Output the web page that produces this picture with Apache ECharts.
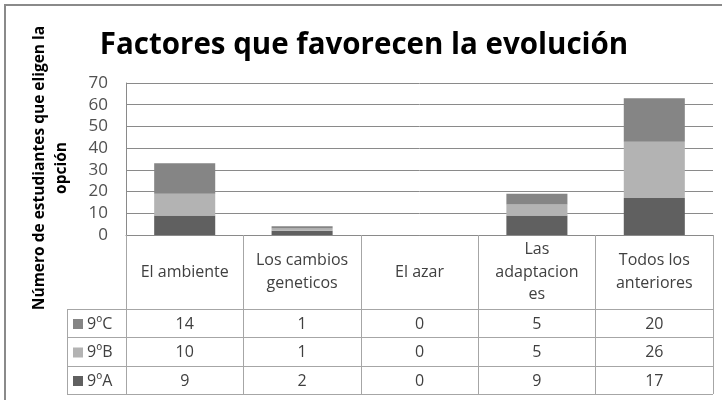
<!DOCTYPE html>
<html><head><meta charset="utf-8">
<script src="https://cdn.jsdelivr.net/npm/echarts@6/dist/echarts.min.js"></script>
<style>html,body{margin:0;padding:0;background:#fff}#c{width:722px;height:400px}</style>
</head><body><div id="c"></div>
<script>
const title = "Factores que favorecen la evolución";
const yTitle = "Número de estudiantes que eligen la\nopción";
const categories = ["El ambiente", "Los cambios\ngeneticos", "El azar", "Las\nadaptacion\nes", "Todos los\nanteriores"];
const seriesNames = ["9ºA", "9ºB", "9ºC"];
const values9A = [9, 2, 0, 9, 17];
const values9B = [10, 1, 0, 5, 26];
const values9C = [14, 1, 0, 5, 20];
const seriesColors = ["#606060", "#b3b3b3", "#858585"];
const yMin = 0, yMax = 70, yStep = 10;

const FONT = "'Open Sans', 'Noto Sans', sans-serif";
const chart = echarts.init(document.getElementById('c'), null, {renderer: 'canvas'});
const allValues = [values9A, values9B, values9C];

const option = {
  animation: false,
  backgroundColor: '#fff',
  grid: {left: 126, right: 9, top: 83, bottom: 165, containLabel: false},
  xAxis: {
    type: 'category',
    data: categories,
    boundaryGap: true,
    axisLine: {show: true, lineStyle: {color: '#8a8a8a', width: 1}},
    axisTick: {show: true, length: 159, interval: 0, lineStyle: {color: '#a6a6a6', width: 1}},
    axisLabel: {interval: 0, fontFamily: FONT, fontSize: 16, color: '#404040', lineHeight: 22.5,
      verticalAlign: 'middle', margin: 37, align: 'center'},
    splitLine: {show: false}
  },
  yAxis: {
    type: 'value', min: yMin, max: yMax, interval: yStep,
    axisLine: {show: true, lineStyle: {color: '#8a8a8a', width: 1}},
    axisTick: {show: false},
    axisLabel: {fontFamily: FONT, fontSize: 17, color: '#505050', margin: 18},
    splitLine: {show: true, lineStyle: {color: '#8a8a8a', width: 1}}
  },
  series: seriesNames.map((n, i) => ({
    name: n, type: 'bar', stack: 'total', data: allValues[i],
    barWidth: '52%', itemStyle: {color: seriesColors[i]}
  }))
};
chart.setOption(option);

// Data table below the axis, positioned with the axis scale
const rowLines = [309, 337, 366, 394];
const rowOrder = [2, 1, 0]; // 9ºC, 9ºB, 9ºA
const tableLeft = 67, tableRight = 713;
const g = [];
g.push({type: 'rect', shape: {x: 5, y: 5, width: 900, height: 900}, style: {fill: null, stroke: '#8a8a8a', lineWidth: 2}, silent: true, z: 0});
g.push({type: 'text', x: 364, y: 46, style: {text: title, font: "bold 29.5px " + FONT, fill: '#000', align: 'center', verticalAlign: 'middle', textAlign: 'center', textVerticalAlign: 'middle'}});
g.push({type: 'text', x: 51, y: 168, rotation: Math.PI / 2, style: {text: yTitle, font: "bold 15.5px " + FONT, fill: '#000', lineHeight: 22, align: 'center', verticalAlign: 'middle', textAlign: 'center', textVerticalAlign: 'middle'}});
rowLines.forEach(y => {
  g.push({type: 'line', shape: {x1: tableLeft, y1: y + 0.5, x2: tableRight, y2: y + 0.5}, style: {stroke: '#a6a6a6', lineWidth: 1}});
});
g.push({type: 'line', shape: {x1: tableLeft + 0.5, y1: rowLines[0], x2: tableLeft + 0.5, y2: rowLines[3]}, style: {stroke: '#a6a6a6', lineWidth: 1}});
rowOrder.forEach((si, r) => {
  const cy = (rowLines[r] + rowLines[r + 1]) / 2 + 1;
  g.push({type: 'rect', shape: {x: 73, y: cy - 5, width: 10, height: 10}, style: {fill: seriesColors[si]}});
  g.push({type: 'text', x: 87, y: cy, style: {text: seriesNames[si], font: "16px " + FONT, fill: '#404040', align: 'left', verticalAlign: 'middle', textAlign: 'left', textVerticalAlign: 'middle'}});
  allValues[si].forEach((v, ci) => {
    const px = chart.convertToPixel({xAxisIndex: 0}, ci);
    g.push({type: 'text', x: px, y: cy, style: {text: String(v), font: "16px " + FONT, fill: '#404040', align: 'center', verticalAlign: 'middle', textAlign: 'center', textVerticalAlign: 'middle'}});
  });
});
chart.setOption({graphic: {elements: g}});
</script></body></html>
